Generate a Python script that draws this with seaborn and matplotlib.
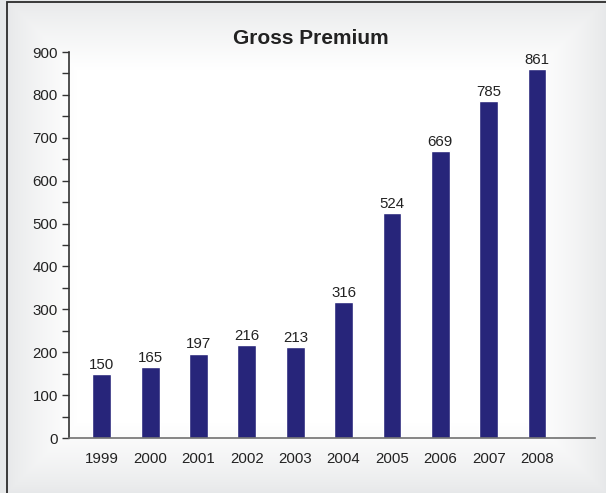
import numpy as np
import pandas as pd
import matplotlib
matplotlib.use("Agg")
import matplotlib.pyplot as plt
from matplotlib.patches import Rectangle
from matplotlib.ticker import MultipleLocator
import seaborn as sns

years = ["1999", "2000", "2001", "2002", "2003", "2004", "2005", "2006", "2007", "2008"]
premium = [150, 165, 197, 216, 213, 316, 524, 669, 785, 861]
title = "Gross Premium"

sns.set_theme(style="white")
plt.rcParams["font.family"] = ["Liberation Sans", "DejaVu Sans"]

W, H = 606, 493
fig = plt.figure(figsize=(W / 100, H / 100), dpi=100)
fig.patch.set_facecolor("white")

# soft grey frame fading to white toward the centre
bg = fig.add_axes([0, 0, 1, 1], zorder=-10)
xs = np.linspace(0, 1, W)
ys = np.linspace(0, 1, H)
X, Y = np.meshgrid(xs, ys)
dx = np.minimum(X - 7 / W, 1 - X) * W
dy = np.minimum(Y, 1 - Y) * H
d = np.minimum(dx, dy)
t = np.clip(d / 70.0, 0, 1) ** 0.8
edge = np.array([0.905, 0.91, 0.915])
img = edge[None, None, :] + (1 - edge[None, None, :]) * t[..., None]
bg.imshow(img, extent=[0, 1, 0, 1], aspect="auto", origin="lower")
bg.set_axis_off()

# frame line along left and top edges
fig.patches.append(Rectangle((7 / W, -0.2), 1.2, 1.2 - 1.5 / H, transform=fig.transFigure,
                             fill=False, edgecolor="#2b2b2b", linewidth=1.3))

left, right = 69 / W, 595 / W
bottom, top = 1 - 438 / H, 1 - 52 / H
ax = fig.add_axes([left, bottom, right - left, top - bottom])
ax.patch.set_alpha(0)

df = pd.DataFrame({"year": years, "premium": premium})
sns.barplot(data=df, x="year", y="premium", color="#27257a", saturation=1,
            width=0.39, ax=ax)

for i, v in enumerate(premium):
    ax.text(i, v + 5, str(v), ha="center", va="bottom", fontsize=10.8, color="#222222")

ax.set_xlim(-0.68, 10.2)
ax.set_ylim(0, 900)
ax.yaxis.set_major_locator(MultipleLocator(100))
ax.yaxis.set_minor_locator(MultipleLocator(50))
ax.tick_params(axis="y", which="both", direction="out", length=5, width=1,
               color="#333333", left=True, labelsize=10.8, labelcolor="#222222", pad=3)
ax.tick_params(axis="x", length=0, labelsize=10.8, labelcolor="#222222", pad=10)
ax.set_xlabel("")
ax.set_ylabel("")
for s in ["top", "right"]:
    ax.spines[s].set_visible(False)
ax.spines["left"].set_color("#333333")
ax.spines["left"].set_linewidth(1.2)
ax.spines["bottom"].set_color("#707070")
ax.spines["bottom"].set_linewidth(1.2)
ax.grid(False)

fig.text(311 / W, 1 - 38 / H, title, ha="center", va="center", fontsize=15,
         fontweight="bold", color="#222222")

fig.savefig("out.png", dpi=100)
